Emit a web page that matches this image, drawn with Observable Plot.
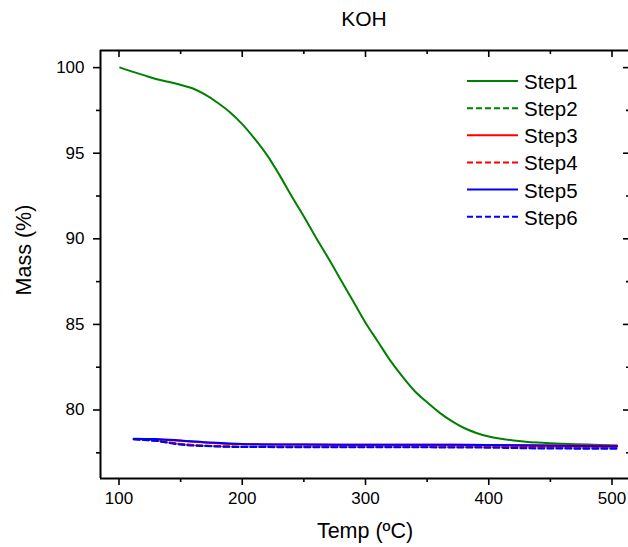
<!DOCTYPE html>
<html><head><meta charset="utf-8">
<script src="https://cdn.jsdelivr.net/npm/d3@7"></script>
<script src="https://cdn.jsdelivr.net/npm/@observablehq/plot@0.6"></script>
<style>body{margin:0;background:#fff;} svg{display:block;overflow:visible}</style>
</head><body><div id="chart"></div>
<script>
// ---- data ----
const chartTitle = "KOH";
const xLabel = "Temp (ºC)";
const yLabel = "Mass (%)";
const seriesNames = ["Step1", "Step2", "Step3", "Step4", "Step5", "Step6"];
const seriesColors = ["#008000", "#008000", "#ff0000", "#ff0000", "#0000ff", "#0000ff"];
const seriesDashed = [false, true, false, true, false, true];

const step1Temp = [101,110,120,130,140,150,160,170,180,190,200,210,220,230,240,250,260,270,280,290,300,310,320,330,340,350,360,370,380,390,400,410,420,430,440,450,460,470,480,490,504];
const step1Mass = [100.0,99.78,99.56,99.34,99.17,98.99,98.78,98.42,97.95,97.4,96.7,95.85,94.9,93.75,92.5,91.3,90.05,88.85,87.6,86.35,85.1,84.0,82.9,81.95,81.1,80.45,79.85,79.35,78.95,78.66,78.45,78.32,78.22,78.15,78.1,78.06,78.03,78.0,77.98,77.96,77.93];

const stepTemp = [112,130,150,175,200,250,300,350,400,450,504];
const step2Mass = [78.28,78.2,78.0,77.9,77.86,77.85,77.85,77.84,77.84,77.82,77.8];
const step3Mass = [78.3,78.28,78.2,78.08,78.0,77.98,77.97,77.97,77.96,77.94,77.92];
const step4Mass = [78.3,78.22,78.02,77.9,77.86,77.86,77.86,77.85,77.85,77.83,77.8];
const step5Mass = [78.32,78.3,78.22,78.1,78.02,77.98,77.97,77.97,77.96,77.92,77.88];
const step6Mass = [78.3,78.2,77.98,77.88,77.84,77.83,77.83,77.82,77.8,77.75,77.74];

const xMajorTicks = [100,200,300,400,500];
const xMinorTicks = [150,250,350,450];
const yMajorTicks = [80,85,90,95,100];
const yMinorTicks = [77.5,82.5,87.5,92.5,97.5];
const xDomain = [85, 515];
const yDomain = [76, 101];

// ---- build tables ----
const seriesTemps = [step1Temp, stepTemp, stepTemp, stepTemp, stepTemp, stepTemp];
const seriesMasses = [step1Mass, step2Mass, step3Mass, step4Mass, step5Mass, step6Mass];
const seriesData = seriesNames.map((name, i) =>
  seriesTemps[i].map((t, j) => ({series: name, temp: t, mass: seriesMasses[i][j]})));

// ---- layout ----
const W = 628, H = 547, mL = 100, mT = 50, mB = 69;
const frameW = 530, frameH = H - mT - mB;
const FONT = "'Liberation Sans', Arial, sans-serif";
const dash = "6,3";

const lineMarks = seriesData.map((d, i) => Plot.line(d, {
  x: "temp", y: "mass", stroke: seriesColors[i], strokeWidth: 2,
  strokeDasharray: seriesDashed[i] ? dash : null, curve: "monotone-x"
}));

const plot = Plot.plot({
  width: W, height: H,
  marginLeft: mL, marginRight: 0, marginTop: mT, marginBottom: mB,
  style: {fontFamily: FONT, background: "#fff", color: "#000", overflow: "visible"},
  x: {domain: xDomain, range: [mL, mL + frameW]},
  y: {domain: yDomain},
  marks: [
    Plot.axisX({ticks: xMajorTicks, tickSize: 7, tickPadding: 6, fontSize: 17, label: null, strokeWidth: 1.6}),
    Plot.axisX({ticks: xMinorTicks, tickSize: 4, tickFormat: () => "", label: null, strokeWidth: 1.6}),
    Plot.axisY({ticks: yMajorTicks, tickSize: 7, tickPadding: 9, fontSize: 17, label: null, strokeWidth: 1.6}),
    Plot.axisY({ticks: yMinorTicks, tickSize: 4, tickFormat: () => "", label: null, strokeWidth: 1.6}),
    // top inward ticks
    Plot.ruleX(xMajorTicks, {x: d => d, insetBottom: frameH - 7, stroke: "#000", strokeWidth: 1.6}),
    Plot.ruleX(xMinorTicks, {x: d => d, insetBottom: frameH - 4, stroke: "#000", strokeWidth: 1.6}),
    // right inward ticks
    Plot.ruleY(yMajorTicks, {y: d => d, insetLeft: frameW - 7, stroke: "#000", strokeWidth: 1.6}),
    Plot.ruleY(yMinorTicks, {y: d => d, insetLeft: frameW - 4, stroke: "#000", strokeWidth: 1.6}),
    // frame
    Plot.ruleX([xDomain[0]], {x: d => d, stroke: "#000", strokeWidth: 2}),
    Plot.ruleY(yDomain, {y: d => d, stroke: "#000", strokeWidth: 2}),
    ...lineMarks
  ]
});

const svg = d3.select(plot);
// title and axis titles
svg.append("text").attr("x", 364).attr("y", 26).attr("text-anchor", "middle")
  .attr("font-size", 21).attr("font-family", FONT).attr("fill", "#000").text(chartTitle);
svg.append("text").attr("x", 365).attr("y", 538).attr("text-anchor", "middle")
  .attr("font-size", 21.5).attr("font-family", FONT).attr("fill", "#000").text(xLabel);
svg.append("text").attr("transform", "translate(31,250) rotate(-90)").attr("text-anchor", "middle")
  .attr("font-size", 21.5).attr("font-family", FONT).attr("fill", "#000").text(yLabel);

// legend
const leg = svg.append("g");
seriesNames.forEach((name, i) => {
  const y = 81 + i * 27.15;
  leg.append("line").attr("x1", 467).attr("x2", 518).attr("y1", y).attr("y2", y)
    .attr("stroke", seriesColors[i]).attr("stroke-width", 2)
    .attr("stroke-dasharray", seriesDashed[i] ? dash : null);
  leg.append("text").attr("x", 524).attr("y", y + 8).attr("font-size", 20.5)
    .attr("text-anchor", "start")
    .attr("font-family", FONT).attr("fill", "#000").text(name);
});

document.getElementById("chart").appendChild(plot);
</script>
</body></html>
